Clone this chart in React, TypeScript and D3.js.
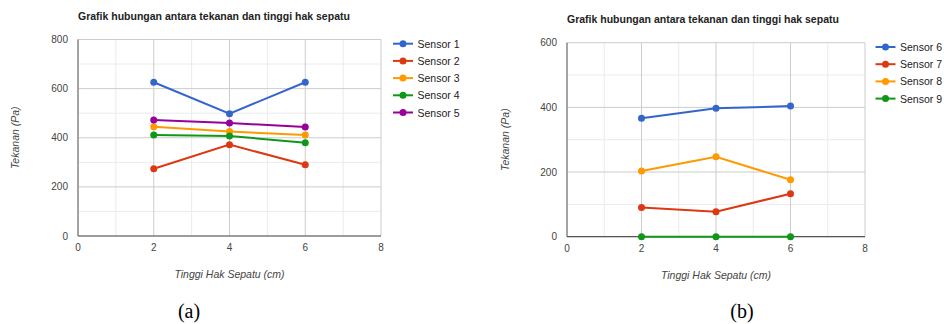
import React from 'react';
import * as d3 from 'd3';

const heights = [2, 4, 6];
const xTicks = [0, 2, 4, 6, 8];

const namesA = ['Sensor 1', 'Sensor 2', 'Sensor 3', 'Sensor 4', 'Sensor 5'];
const sensor1 = [626, 498, 626];
const sensor2 = [274, 372, 290];
const sensor3 = [445, 425, 411];
const sensor4 = [411, 407, 380];
const sensor5 = [472, 460, 444];
const yTicksA = [0, 200, 400, 600, 800];

const namesB = ['Sensor 6', 'Sensor 7', 'Sensor 8', 'Sensor 9'];
const sensor6 = [366, 397, 404];
const sensor7 = [90, 77, 133];
const sensor8 = [203, 247, 176];
const sensor9 = [0, 0, 0];
const yTicksB = [0, 200, 400, 600];

const colors = ['#3366cc', '#dc3912', '#ff9900', '#109618', '#990099'];

const title = 'Grafik hubungan antara tekanan dan tinggi hak sepatu';
const xTitle = 'Tinggi Hak Sepatu (cm)';
const yTitle = 'Tekanan (Pa)';

const font = '"Liberation Sans", Arial, sans-serif';

type PanelProps = {
  ox: number
  left: number
  right: number
  top: number
  bottom: number
  yMax: number
  yTicks: number[]
  names: string[]
  series: number[][]
  titleY: number
  titleX: number
  legendX: number
  legendY: number
  yTitleX: number
  caption: string
  captionX: number
}

function Panel(p: PanelProps) {
  const x = d3.scaleLinear().domain([0, 8]).range([p.ox + p.left, p.ox + p.right]);
  const y = d3.scaleLinear().domain([0, p.yMax]).range([p.bottom, p.top]);
  const step = p.yTicks[1] - p.yTicks[0];
  const minorY = d3.range(step / 2, p.yMax, step);
  const minorX = d3.range(1, 8, 2);
  const line = d3.line<number>()
    .x((d, i) => x(heights[i]))
    .y(d => y(d));
  const midX = (x(0) + x(8)) / 2;
  const midY = (p.top + p.bottom) / 2;

  return (
    <g>
      <text x={p.ox + p.titleX} y={p.titleY} fontFamily={font} fontSize={10.5} fontWeight="bold" fill="#222">{title}</text>
      {minorY.map(v => (
        <line key={'my' + v} x1={x(0)} x2={x(8)} y1={y(v)} y2={y(v)} stroke="#ebebeb" />
      ))}
      {minorX.map(v => (
        <line key={'mx' + v} x1={x(v)} x2={x(v)} y1={p.top} y2={p.bottom} stroke="#ebebeb" />
      ))}
      {p.yTicks.map(v => (
        <line key={'gy' + v} x1={x(0)} x2={x(8)} y1={y(v)} y2={y(v)} stroke="#cccccc" />
      ))}
      {xTicks.map(v => (
        <line key={'gx' + v} x1={x(v)} x2={x(v)} y1={p.top} y2={p.bottom} stroke="#cccccc" />
      ))}
      <line x1={x(0)} x2={x(0)} y1={p.top} y2={p.bottom} stroke="#777" strokeWidth={1.2} />
      <line x1={x(0)} x2={x(8)} y1={p.bottom} y2={p.bottom} stroke="#555" strokeWidth={1.2} />
      {p.yTicks.map(v => (
        <text key={'ty' + v} x={x(0) - 10} y={y(v) + 3.5} textAnchor="end" fontFamily={font} fontSize={10} fill="#444">{v}</text>
      ))}
      {xTicks.map(v => (
        <text key={'tx' + v} x={x(v)} y={p.bottom + 15} textAnchor="middle" fontFamily={font} fontSize={10} fill="#444">{v}</text>
      ))}
      <text x={midX} y={p.bottom + 42} textAnchor="middle" fontFamily={font} fontSize={10.5} fontStyle="italic" fill="#444">{xTitle}</text>
      <text transform={`translate(${p.ox + p.yTitleX},${midY}) rotate(-90)`} textAnchor="middle" fontFamily={font} fontSize={10.5} fontStyle="italic" fill="#444">{yTitle}</text>
      {p.series.map((s, i) => (
        <g key={'s' + i}>
          <path d={line(s) || ''} fill="none" stroke={colors[i]} strokeWidth={2} />
          {s.map((v, j) => (
            <circle key={j} cx={x(heights[j])} cy={y(v)} r={3.5} fill={colors[i]} />
          ))}
        </g>
      ))}
      {p.names.map((n, i) => {
        const ly = p.legendY + i * 17.2;
        const lx = p.ox + p.legendX;
        return (
          <g key={'l' + i}>
            <line x1={lx} x2={lx + 20} y1={ly} y2={ly} stroke={colors[i]} strokeWidth={2} />
            <circle cx={lx + 10} cy={ly} r={3.5} fill={colors[i]} />
            <text x={lx + 24.5} y={ly + 4} fontFamily={font} fontSize={10.5} fill="#222">{n}</text>
          </g>
        );
      })}
      <text x={p.ox + p.captionX} y={318} textAnchor="middle" fontFamily='"Liberation Serif", "Times New Roman", serif' fontSize={20} fill="#000">{p.caption}</text>
    </g>
  );
}

export default function App() {
  return (
    <svg width={944} height={324} style={{ position: 'absolute', left: 0, top: 0, background: '#fff' }}>
      <rect width={944} height={324} fill="#fff" />
      <Panel ox={0} left={78} right={381} top={39.5} bottom={236} yMax={800} yTicks={yTicksA}
        names={namesA} series={[sensor1, sensor2, sensor3, sensor4, sensor5]}
        titleX={78} titleY={20} legendX={393} legendY={43.7} yTitleX={19}
        caption="(a)" captionX={189} />
      <Panel ox={474} left={93} right={391} top={42.7} bottom={236.7} yMax={600} yTicks={yTicksB}
        names={namesB} series={[sensor6, sensor7, sensor8, sensor9]}
        titleX={93} titleY={23} legendX={401.5} legendY={47} yTitleX={35}
        caption="(b)" captionX={268} />
    </svg>
  );
}
